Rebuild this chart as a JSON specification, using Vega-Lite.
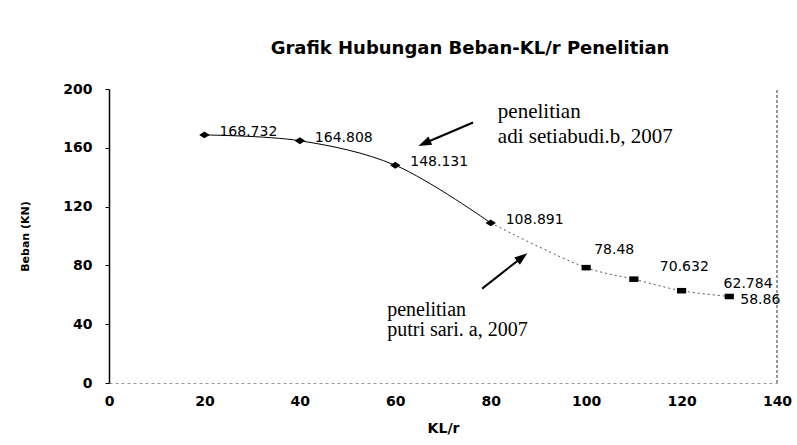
{
  "$schema": "https://vega.github.io/schema/vega-lite/v6.json",
  "width": 668,
  "height": 294,
  "autosize": {"type": "none"},
  "padding": {"left": 109, "top": 89, "right": 20, "bottom": 62},
  "background": "white",
  "config": {"view": {"stroke": null}, "font": "DejaVu Sans"},
  "title": {
    "text": "Grafik Hubungan Beban-KL/r Penelitian",
    "font": "DejaVu Sans",
    "fontSize": 18,
    "fontWeight": "bold",
    "color": "black",
    "anchor": "middle",
    "frame": "group",
    "dx": 27,
    "offset": 15,
    "baseline": "middle"
  },
  "datasets": {
    "adi": [
      {"klr": 20, "beban": 168.732},
      {"klr": 40, "beban": 164.808},
      {"klr": 60, "beban": 148.131},
      {"klr": 80, "beban": 108.891}
    ],
    "putri": [
      {"klr": 100, "beban": 78.48},
      {"klr": 110, "beban": 70.632},
      {"klr": 120, "beban": 62.784},
      {"klr": 130, "beban": 58.86}
    ],
    "putriCurve": [
      {"klr": 80, "beban": 108.891},
      {"klr": 100, "beban": 78.48},
      {"klr": 110, "beban": 70.632},
      {"klr": 120, "beban": 62.784},
      {"klr": 130, "beban": 58.86}
    ],
    "frame": [
      {"klr": 140, "beban": 0, "beban2": 200}
    ],
    "notes": [
      {"id": "adi", "text": "penelitian\nadi setiabudi.b, 2007", "klr": 81.5, "beban": 180.3},
      {"id": "putri", "text": "penelitian\nputri sari. a, 2007", "klr": 58.3, "beban": 45.6}
    ],
    "arrows": [
      {"id": "adi", "klr": 76.3, "beban": 177.2, "klr2": 66.1, "beban2": 163.1},
      {"id": "putri", "klr": 78.2, "beban": 64.2, "klr2": 86.6, "beban2": 85.6}
    ]
  },
  "encoding": {
    "x": {
      "field": "klr", "type": "quantitative",
      "scale": {"domain": [0, 140], "nice": false, "zero": true},
      "axis": {
        "title": "KL/r",
        "values": [0, 20, 40, 60, 80, 100, 120, 140],
        "grid": false,
        "ticks": false,
        "tickSize": 0,
        "domainColor": "#9a9a9a",
        "domainDash": [3, 3],
        "domainWidth": 1,
        "labelFont": "DejaVu Sans",
        "labelFontSize": 14,
        "labelFontWeight": "bold",
        "labelColor": "black",
        "labelPadding": 11,
        "labelFlush": false,
        "labelOverlap": false,
        "titleFont": "DejaVu Sans",
        "titleFontSize": 14,
        "titleFontWeight": "bold",
        "titleColor": "black",
        "titleX": 334,
        "titleY": 45,
        "titleBaseline": "middle",
        "titleAlign": "center"
      }
    },
    "y": {
      "field": "beban", "type": "quantitative",
      "scale": {"domain": [0, 200], "nice": false},
      "axis": {
        "title": "Beban (KN)",
        "values": [0, 40, 80, 120, 160, 200],
        "grid": false,
        "ticks": true,
        "tickSize": 4,
        "tickColor": "black",
        "domainColor": "black",
        "domainWidth": 1.5,
        "labelFont": "DejaVu Sans",
        "labelFontSize": 14,
        "labelFontWeight": "bold",
        "labelColor": "black",
        "labelPadding": 13,
        "labelFlush": false,
        "titleFont": "DejaVu Sans",
        "titleFontSize": 11,
        "titleFontWeight": "bold",
        "titleColor": "black",
        "titleAngle": 270,
        "titleX": -84,
        "titleY": 147,
        "titleBaseline": "middle",
        "titleAlign": "center"
      }
    }
  },
  "layer": [
    {
      "data": {"name": "frame"},
      "mark": {"type": "rule", "color": "#333333", "strokeWidth": 1, "strokeDash": [3, 2]},
      "encoding": {
        "y2": {"field": "beban2"}
      }
    },
    {
      "data": {"name": "putriCurve"},
      "mark": {"type": "line", "interpolate": "catmull-rom", "color": "#555555", "strokeWidth": 1, "strokeDash": [2, 3]}
    },
    {
      "data": {"name": "adi"},
      "mark": {"type": "line", "interpolate": "catmull-rom", "color": "black", "strokeWidth": 1}
    },
    {
      "data": {"name": "adi"},
      "mark": {"type": "point", "shape": "M-1,0L0,-0.65L1,0L0,0.65Z", "filled": true, "color": "black", "size": 110, "opacity": 1}
    },
    {
      "data": {"name": "putri"},
      "mark": {"type": "point", "shape": "M-1,-0.6L1,-0.6L1,0.6L-1,0.6Z", "filled": true, "color": "black", "size": 85, "opacity": 1}
    },
    {
      "data": {"name": "adi"},
      "mark": {"type": "text", "align": "left", "baseline": "middle", "dx": 15, "dy": -3, "fontSize": 14, "font": "DejaVu Sans", "color": "black"},
      "encoding": {"text": {"field": "beban", "type": "nominal"}}
    },
    {
      "data": {"name": "putri"},
      "transform": [{"filter": "datum.klr == 100"}],
      "mark": {"type": "text", "align": "left", "baseline": "middle", "dx": 8, "dy": -18, "fontSize": 14, "font": "DejaVu Sans", "color": "black"},
      "encoding": {"text": {"field": "beban", "type": "nominal"}}
    },
    {
      "data": {"name": "putri"},
      "transform": [{"filter": "datum.klr == 110"}],
      "mark": {"type": "text", "align": "left", "baseline": "middle", "dx": 26, "dy": -12, "fontSize": 14, "font": "DejaVu Sans", "color": "black"},
      "encoding": {"text": {"field": "beban", "type": "nominal"}}
    },
    {
      "data": {"name": "putri"},
      "transform": [{"filter": "datum.klr == 120"}],
      "mark": {"type": "text", "align": "left", "baseline": "middle", "dx": 42, "dy": -7, "fontSize": 14, "font": "DejaVu Sans", "color": "black"},
      "encoding": {"text": {"field": "beban", "type": "nominal"}}
    },
    {
      "data": {"name": "putri"},
      "transform": [{"filter": "datum.klr == 130"}],
      "mark": {"type": "text", "align": "left", "baseline": "middle", "dx": 11, "dy": 4, "fontSize": 14, "font": "DejaVu Sans", "color": "black"},
      "encoding": {"text": {"field": "beban", "type": "nominal"}}
    },
    {
      "data": {"name": "notes"},
      "transform": [{"filter": "datum.id == 'adi'"}],
      "mark": {"type": "text", "align": "left", "baseline": "alphabetic", "lineBreak": "\n", "lineHeight": 25, "fontSize": 21, "font": "Liberation Serif", "color": "black"},
      "encoding": {"text": {"field": "text", "type": "nominal"}}
    },
    {
      "data": {"name": "notes"},
      "transform": [{"filter": "datum.id == 'putri'"}],
      "mark": {"type": "text", "align": "left", "baseline": "alphabetic", "lineBreak": "\n", "lineHeight": 20, "fontSize": 20, "font": "Liberation Serif", "color": "black"},
      "encoding": {"text": {"field": "text", "type": "nominal"}}
    },
    {
      "data": {"name": "arrows"},
      "mark": {"type": "rule", "color": "black", "strokeWidth": 2},
      "encoding": {
        "x2": {"field": "klr2"},
        "y2": {"field": "beban2"}
      }
    },
    {
      "data": {"name": "arrows"},
      "transform": [{"filter": "datum.id == 'adi'"}],
      "mark": {"type": "point", "shape": "M0,-1L0.7,1L-0.7,1Z", "filled": true, "color": "black", "size": 170, "opacity": 1, "angle": 246},
      "encoding": {
        "x": {"field": "klr2", "type": "quantitative"},
        "y": {"field": "beban2", "type": "quantitative"}
      }
    },
    {
      "data": {"name": "arrows"},
      "transform": [{"filter": "datum.id == 'putri'"}],
      "mark": {"type": "point", "shape": "M0,-1L0.7,1L-0.7,1Z", "filled": true, "color": "black", "size": 170, "opacity": 1, "angle": 52},
      "encoding": {
        "x": {"field": "klr2", "type": "quantitative"},
        "y": {"field": "beban2", "type": "quantitative"}
      }
    }
  ]
}
